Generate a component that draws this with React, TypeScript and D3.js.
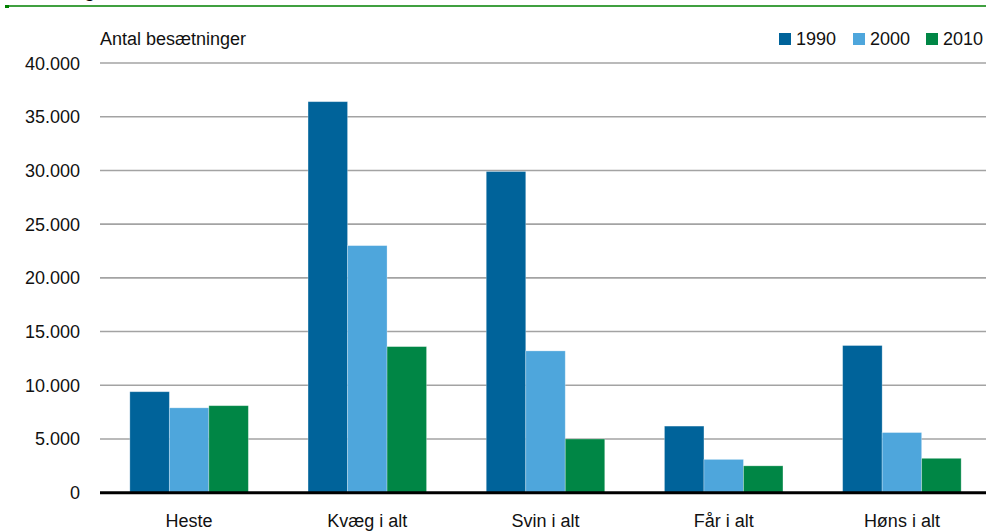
import React from "react";
import * as d3 from "d3";

const categories = ["Heste", "Kvæg i alt", "Svin i alt", "Får i alt", "Høns i alt"];
const years = ["1990", "2000", "2010"];
const values1990 = [9400, 36400, 29900, 6200, 13700];
const values2000 = [7900, 23000, 13200, 3100, 5600];
const values2010 = [8100, 13600, 5000, 2500, 3200];
const yTicks = [0, 5000, 10000, 15000, 20000, 25000, 30000, 35000, 40000];
const yTickLabels = ["0", "5.000", "10.000", "15.000", "20.000", "25.000", "30.000", "35.000", "40.000"];
const yLabel = "Antal besætninger";

const colors = ["#00639a", "#4ea6dc", "#008645"];
const W = 986;
const H = 531;
const FONT = "'Liberation Sans', Arial, sans-serif";

export default function App() {
  const series = [values1990, values2000, values2010];
  const y = d3.scaleLinear().domain([0, 40000]).range([492.7, 63]);
  const x = d3
    .scaleBand<string>()
    .domain(categories)
    .range([100, 100 + 5 * 178.2])
    .paddingInner(0.335)
    .paddingOuter(0.1675);
  const xi = d3.scaleBand<string>().domain(years).range([0, x.bandwidth()]).padding(0);

  const legendX = [779, 853, 926];

  return (
    <svg
      width={W}
      height={H}
      style={{ position: "absolute", left: 0, top: 0, background: "#fff" }}
      fontFamily={FONT}
    >
      <rect x={0} y={0} width={W} height={H} fill="#fff" />
      <line x1={5} x2={W} y1={6} y2={6} stroke="#008000" strokeWidth={1.6} />
      <rect x={5} y={5} width={4} height={3} fill="#008000" />
      <text x={84} y={-3} fontSize={20} fill="#000">g</text>

      {yTicks.map((t) =>
        t === 0 ? null : (
          <line key={"g" + t} x1={100} x2={W} y1={y(t)} y2={y(t)} stroke="#a3a3a3" strokeWidth={1.6} />
        )
      )}
      {yTicks.map((t, i) => (
        <text key={"t" + t} x={80} y={y(t) + 6.5} fontSize={18} textAnchor="end" fill="#111">
          {yTickLabels[i]}
        </text>
      ))}

      <text x={100} y={45} fontSize={18} fill="#111">{yLabel}</text>

      {categories.map((c, ci) =>
        years.map((yr, si) => {
          const v = series[si][ci];
          return (
            <rect
              key={c + yr}
              x={(x(c) as number) + (xi(yr) as number)}
              y={y(v)}
              width={xi.bandwidth()}
              height={y(0) - y(v)}
              fill={colors[si]}
              stroke="#ffffff"
              strokeOpacity={0.35}
              strokeWidth={0.8}
            />
          );
        })
      )}

      <line x1={100} x2={W} y1={y(0)} y2={y(0)} stroke="#000" strokeWidth={3} />

      {categories.map((c) => (
        <text
          key={"c" + c}
          x={(x(c) as number) + x.bandwidth() / 2}
          y={527}
          fontSize={18}
          textAnchor="middle"
          fill="#111"
        >
          {c}
        </text>
      ))}

      {years.map((yr, i) => (
        <g key={"l" + yr}>
          <rect x={legendX[i]} y={33} width={12} height={12} fill={colors[i]} />
          <text x={legendX[i] + 17} y={45} fontSize={18} fill="#111">{yr}</text>
        </g>
      ))}
    </svg>
  );
}
